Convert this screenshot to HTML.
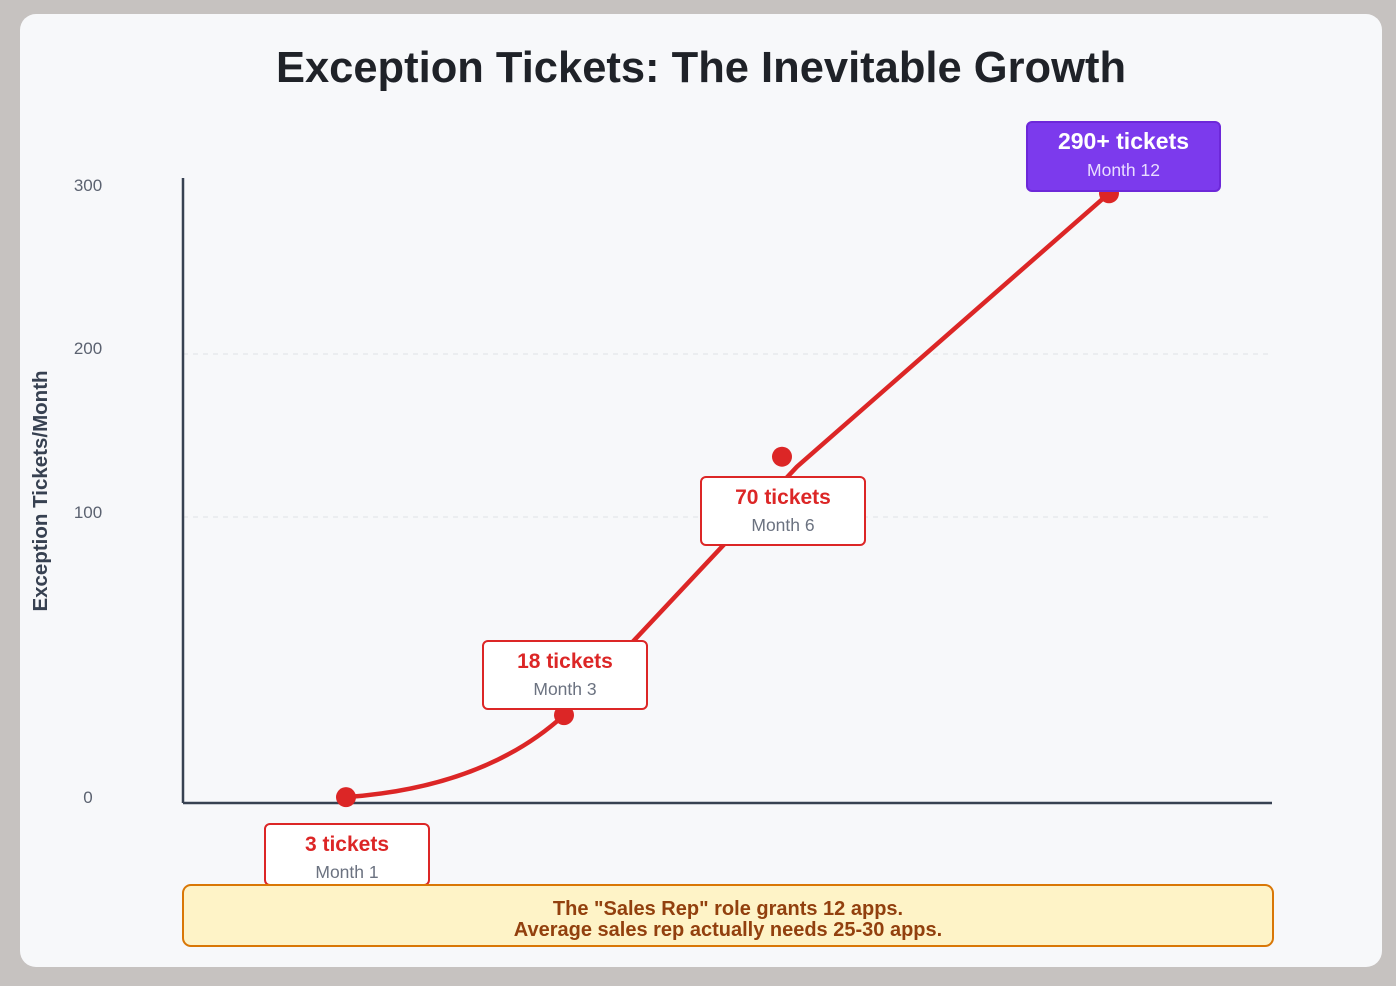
<!DOCTYPE html>
<html><head><meta charset="utf-8">
<style>
html,body{margin:0;padding:0;background:#c6c2c0;width:1396px;height:986px;overflow:hidden;font-family:"Liberation Sans",Arial,sans-serif}
.card{position:absolute;left:20px;top:14px;width:1362px;height:953px;background:#f7f8fa;border-radius:16px}
</style></head>
<body>
<div class="card"></div>
<svg width="1396" height="986" style="position:absolute;left:0;top:0">
<text x="701" y="82" text-anchor="middle" font-size="43.5" font-weight="bold" fill="#1f2228">Exception Tickets: The Inevitable Growth</text>
<text transform="translate(47,491) rotate(-90)" text-anchor="middle" font-size="20.5" font-weight="bold" fill="#374151">Exception Tickets/Month</text>
<g id="grid"></g>
<line x1="183" y1="178" x2="183" y2="803" stroke="#374151" stroke-width="2.5"/>
<line x1="183" y1="803" x2="1272" y2="803" stroke="#374151" stroke-width="2.5"/>
<g id="series"></g>
<g id="labels"></g>
<rect x="183" y="885" width="1090" height="61" rx="8" fill="#fef3c7" stroke="#d97706" stroke-width="2"/>
<text x="728" y="915" text-anchor="middle" font-size="20" font-weight="bold" fill="#92400e">The "Sales Rep" role grants 12 apps.</text>
<text x="728" y="936" text-anchor="middle" font-size="20" font-weight="bold" fill="#92400e">Average sales rep actually needs 25-30 apps.</text>
</svg>
<script>
const tickValues=[0,100,200,300];
const tickLabels=["0","100","200","300"];
const months=[1,3,6,12];
const monthLabels=["Month 1","Month 3","Month 6","Month 12"];
const ticketLabels=["3 tickets","18 tickets","70 tickets","290+ tickets"];
const xSlots=[0,1,2,3.5];
const plotted=[1,30,137,298];
const NS="http://www.w3.org/2000/svg";
const tickPix=[800,517,354,190];
function y(v){for(let i=0;i<tickValues.length-1;i++){if(v<=tickValues[i+1]||i==tickValues.length-2){const t=(v-tickValues[i])/(tickValues[i+1]-tickValues[i]);return tickPix[i]+t*(tickPix[i+1]-tickPix[i]);}}}
function x(s){return 346+s*218;}
function mk(tag,attrs,parent){const e=document.createElementNS(NS,tag);for(const k in attrs)e.setAttribute(k,attrs[k]);parent.appendChild(e);return e;}
const grid=document.getElementById('grid'),series=document.getElementById('series'),labels=document.getElementById('labels');
tickValues.forEach((v,i)=>{
  const ty=[797,512,348,185][i];
  const t=mk('text',{x:88,y:ty+6,'text-anchor':'middle','font-size':17,fill:'#5b6270'},grid);
  
  
  t.textContent=tickLabels[i];
  if(v>0&&v<300){const g=mk('line',{x1:183,x2:1270,y1:y(v),y2:y(v),stroke:'#dfe2e6','stroke-dasharray':'5 5'},grid);
  
  }
});
const pts=plotted.map((v,i)=>[x(xSlots[i]),y(v)]);
let d=`M${pts[0][0]},${pts[0][1]} Q${(pts[0][0]+pts[1][0])/2+30},${pts[0][1]-10} ${pts[1][0]},${pts[1][1]}`;
d+=` L${pts[2][0]+15},${pts[2][1]+10} L${pts[3][0]},${pts[3][1]}`;
const path=mk('path',{d:d,fill:'none',stroke:'#dc2626','stroke-width':4.5,'stroke-linecap':'round','stroke-linejoin':'round'},series);


pts.forEach((p,i)=>{
  const c=mk('circle',{cx:p[0],cy:p[1],r:10,fill:'#dc2626'},series);
  
  
});
const boxes=[[265,824,164,61],[483,641,164,68],[701,477,164,68],[1027,122,193,69]];
boxes.forEach((b,i)=>{
  const last=i==3;
  const r=mk('rect',{x:b[0],y:b[1],width:b[2],height:b[3],rx:5,fill:last?'#7c3aed':'#fff',stroke:last?'#6d28d9':'#dc2626','stroke-width':2},labels);
  
  
  const cx=b[0]+b[2]/2;
  const t1=mk('text',{x:cx,y:b[1]+27,'text-anchor':'middle','font-size':last?23:21,'font-weight':'bold',fill:last?'#fff':'#dc2626'},labels);
  
  
  t1.textContent=ticketLabels[i];
  const t2=mk('text',{x:cx,y:b[1]+54,'text-anchor':'middle','font-size':17.5,fill:last?'#e9ddff':'#6b7280'},labels);
  
  
  t2.textContent=monthLabels[i];
});
</script>
</body></html>
